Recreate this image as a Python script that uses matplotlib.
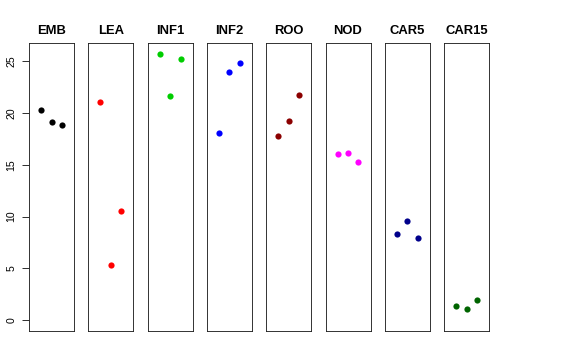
# Strip plot of eight tissues
# plot.py
##################################

# IMPORT STATEMENTS
##################################
import matplotlib
matplotlib.use("Agg")
import matplotlib.pyplot as plt


# DATA
##################################
tissues = ["EMB", "LEA", "INF1", "INF2", "ROO", "NOD", "CAR5", "CAR15"]
colors  = ["#000000", "#FF0000", "#00CD00", "#0000FF",
           "#8B0000", "#FF00FF", "#00008B", "#006400"]

emb   = [20.24, 19.08, 18.85]
lea   = [21.04, 5.34, 10.52]
inf1  = [25.70, 21.65, 25.22]
inf2  = [18.10, 23.94, 24.80]
roo   = [17.73, 19.18, 21.69]
nod   = [16.05, 16.09, 15.22]
car5  = [8.33, 9.62, 7.95]
car15 = [1.41, 1.13, 2.00]

values  = [emb, lea, inf1, inf2, roo, nod, car5, car15]
reps    = [1, 2, 3]
y_ticks = [0, 5, 10, 15, 20, 25]


# CUSTOM FUNCTION DEFINITIONS
###################################

# function: drawPanel
# purpose:  draws one tissue as its own narrow box with three points
def drawPanel(fig, i, name, vals, col, ymax):
    W, H = 576.0, 360.0
    left = 29 + i * 59.3
    ax = fig.add_axes([left / W, (H - 331) / H, 45 / W, 288 / H])
    ax.plot(reps, vals, "o", color=col, markersize=6.2, markeredgewidth=0)
    ax.set_xlim(-0.16, 4.16)
    pad = 0.04 * ymax
    ax.set_ylim(-pad, ymax + pad)
    ax.set_xticks([])
    ax.set_title(name, fontsize=13, fontweight="bold", pad=9)
    for s in ax.spines.values():
        s.set_linewidth(0.9)
        s.set_color("#222222")
    if i == 0:
        ax.set_yticks(y_ticks)
        ax.set_yticklabels([str(t) for t in y_ticks], rotation=90,
                           va="center", fontsize=10.5)
        ax.tick_params(axis="y", length=7.5, width=0.8, pad=5)
    else:
        ax.set_yticks([])
    return ax


# MAIN SCRIPT
###################################
plt.rcParams["font.family"] = ["Liberation Sans", "DejaVu Sans"]
fig = plt.figure(figsize=(8, 5), dpi=72)

ymax = max(max(v) for v in values)
for i in range(len(tissues)):
    drawPanel(fig, i, tissues[i], values[i], colors[i], ymax)

fig.savefig("out.png", dpi=72)
